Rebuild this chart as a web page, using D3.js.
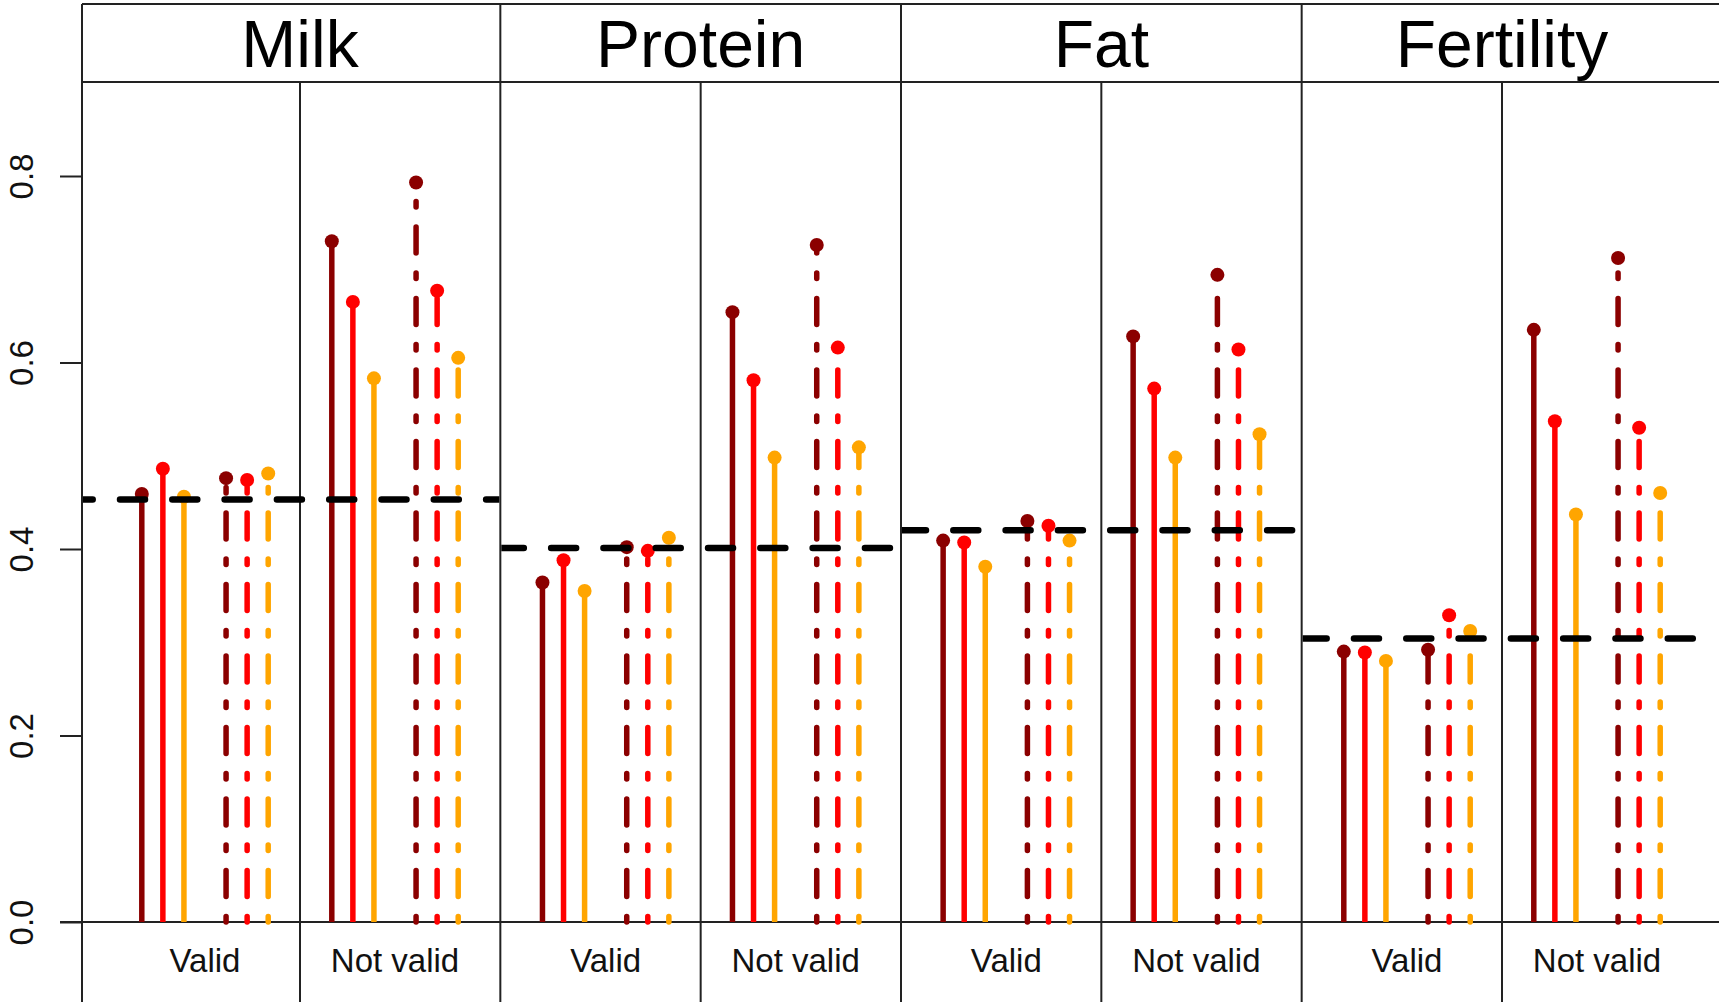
<!DOCTYPE html>
<html lang="en">
<head>
  <meta charset="utf-8">
  <script src="https://d3js.org/d3.v7.min.js"></script>
  <style>
    body { margin: 0; background: #fff; }
    text { font-family: "Liberation Sans", Arial, sans-serif; }
  </style>
</head>
<body>
  <div id="my_dataviz"></div>
  <script>

    // facets, groups and series
    const traits = ["Milk", "Protein", "Fat", "Fertility"];
    const groups = ["Valid", "Not valid"];
    // values in order: Milk-Valid, Milk-Not valid, Protein-Valid, Protein-Not valid, Fat-..., Fertility-...
    const darkredSolid   = [0.459, 0.730, 0.364, 0.654, 0.409, 0.628, 0.290, 0.635];
    const redSolid       = [0.486, 0.665, 0.388, 0.581, 0.407, 0.572, 0.289, 0.537];
    const orangeSolid    = [0.456, 0.583, 0.355, 0.498, 0.381, 0.498, 0.280, 0.437];
    const darkredDotdash = [0.476, 0.793, 0.402, 0.726, 0.430, 0.694, 0.292, 0.712];
    const redDotdash     = [0.474, 0.677, 0.398, 0.616, 0.425, 0.614, 0.329, 0.530];
    const orangeDotdash  = [0.481, 0.605, 0.412, 0.509, 0.409, 0.523, 0.312, 0.460];
    // dashed reference line per trait
    const refLine = [0.453, 0.401, 0.420, 0.304];
    const yTicks = [0, 0.2, 0.4, 0.6, 0.8];

    const series = [
      {values: darkredSolid,   color: "darkred", dotdash: false, slot: -3},
      {values: redSolid,       color: "red",     dotdash: false, slot: -2},
      {values: orangeSolid,    color: "orange",  dotdash: false, slot: -1},
      {values: darkredDotdash, color: "darkred", dotdash: true,  slot: 1},
      {values: redDotdash,     color: "red",     dotdash: true,  slot: 2},
      {values: orangeDotdash,  color: "orange",  dotdash: true,  slot: 3}
    ];

    const rows = [];
    series.forEach(s => s.values.forEach((v, i) => rows.push({
      trait: traits[Math.floor(i / 2)], group: groups[i % 2],
      value: v, color: s.color, dotdash: s.dotdash, slot: s.slot
    })));

    const W = 1719, H = 1002;
    const plotLeft = 82, stripTop = 4, stripBottom = 82;

    const svg = d3.select("#my_dataviz")
      .append("svg")
        .attr("width", W)
        .attr("height", H);

    // scales
    const x0 = d3.scalePoint().domain(traits).range([300, 1502]);
    const xg = d3.scalePoint().domain(groups).range([-95, 95]);
    const xs = d3.scaleLinear().domain([-3, 3]).range([-63.2, 63.2]);
    const y = d3.scaleLinear().domain([0, 0.8]).range([922, 176]);

    const step = x0.step();
    const facetLeft = t => t === traits[0] ? plotLeft : x0(t) - step / 2;
    const facetRight = t => t === traits[traits.length - 1] ? W : x0(t) + step / 2;
    const xPos = d => x0(d.trait) + xg(d.group) + xs(d.slot);

    const frame = "#222";

    // strip box
    svg.append("line").attr("x1", plotLeft).attr("x2", W).attr("y1", stripTop).attr("y2", stripTop)
      .attr("stroke", frame).attr("stroke-width", 2);
    svg.append("line").attr("x1", plotLeft).attr("x2", W).attr("y1", stripBottom).attr("y2", stripBottom)
      .attr("stroke", frame).attr("stroke-width", 2);

    // facet borders
    svg.selectAll(".border")
      .data(traits)
      .join("line")
        .attr("x1", d => facetLeft(d)).attr("x2", d => facetLeft(d))
        .attr("y1", stripTop).attr("y2", H)
        .attr("stroke", frame).attr("stroke-width", 2);

    // divider between Valid / Not valid
    svg.selectAll(".divider")
      .data(traits)
      .join("line")
        .attr("x1", d => x0(d)).attr("x2", d => x0(d))
        .attr("y1", stripBottom).attr("y2", H)
        .attr("stroke", frame).attr("stroke-width", 2);

    // x baseline
    svg.append("line").attr("x1", 60).attr("x2", W).attr("y1", y(0)).attr("y2", y(0))
      .attr("stroke", frame).attr("stroke-width", 2);

    // Y axis
    const yAxis = svg.append("g")
      .attr("transform", `translate(${plotLeft},0)`)
      .call(d3.axisLeft(y).tickValues(yTicks).tickSize(22).tickSizeOuter(0).tickFormat(d3.format(".1f")));
    yAxis.select(".domain").remove();
    yAxis.selectAll(".tick line").attr("stroke", frame).attr("stroke-width", 2);
    yAxis.selectAll(".tick text")
      .attr("x", null).attr("dy", null)
      .attr("transform", `translate(${33 - plotLeft},0) rotate(-90)`)
      .attr("text-anchor", "middle")
      .attr("fill", "#111")
      .style("font-size", "33px")
      .style("font-family", "'Liberation Sans', Arial, sans-serif");

    // stems
    svg.selectAll(".stem")
      .data(rows)
      .join("line")
        .attr("x1", xPos).attr("x2", xPos)
        .attr("y1", y(0)).attr("y2", d => y(d.value))
        .attr("stroke", d => d.color)
        .attr("stroke-width", 5.5)
        .attr("stroke-linecap", d => d.dotdash ? "round" : "butt")
        .attr("stroke-dasharray", d => d.dotdash ? "5.5 20 26 20" : null);

    // heads
    svg.selectAll(".head")
      .data(rows)
      .join("circle")
        .attr("cx", xPos)
        .attr("cy", d => y(d.value))
        .attr("r", 7)
        .attr("fill", d => d.color);

    // reference lines, clipped to each facet
    const dashPhase = [14.3, 1.5, 0, 0];
    traits.forEach((t, i) => {
      const id = "clip" + i;
      svg.append("clipPath").attr("id", id)
        .append("rect")
          .attr("x", facetLeft(t) + 1).attr("y", stripBottom)
          .attr("width", facetRight(t) - facetLeft(t) - 2).attr("height", y(0) - stripBottom);
      svg.append("line")
        .attr("clip-path", `url(#${id})`)
        .attr("x1", facetLeft(t)).attr("x2", facetRight(t))
        .attr("y1", y(refLine[i])).attr("y2", y(refLine[i]))
        .attr("stroke", "#000")
        .attr("stroke-width", 6.5)
        .attr("stroke-linecap", "round")
        .attr("stroke-dasharray", "25 27.3")
        .attr("stroke-dashoffset", dashPhase[i]);
    });

    // strip titles
    svg.selectAll(".title")
      .data(traits)
      .join("text")
        .attr("x", d => x0(d))
        .attr("y", 67)
        .attr("text-anchor", "middle")
        .style("font-size", "66px")
        .attr("fill", "#000")
        .text(d => d);

    // group labels
    const labels = [];
    traits.forEach(t => groups.forEach(g => labels.push({trait: t, group: g})));
    svg.selectAll(".glabel")
      .data(labels)
      .join("text")
        .attr("x", d => x0(d.trait) + xg(d.group))
        .attr("y", 972)
        .attr("text-anchor", "middle")
        .style("font-size", "33px")
        .attr("fill", "#111")
        .text(d => d.group);
  </script>
</body>
</html>
